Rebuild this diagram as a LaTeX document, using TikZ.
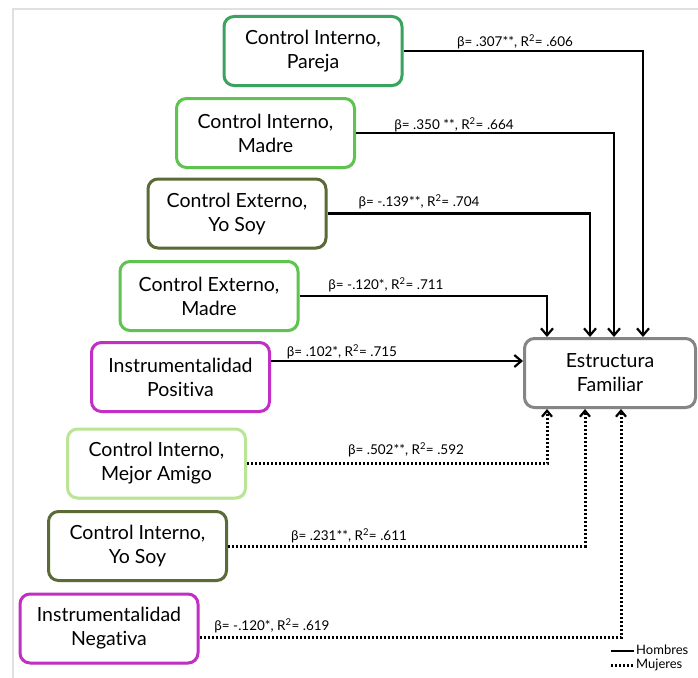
\documentclass[tikz,border=0pt]{standalone}
\usepackage{fontspec}
\setmainfont{Lato}[Ligatures=NoCommon]
\usetikzlibrary{arrows.meta,shadows}
\definecolor{cPareja}{HTML}{3AA35E}
\definecolor{cBright}{HTML}{5EC44F}
\definecolor{cOlive}{HTML}{5B6A36}
\definecolor{cMag}{HTML}{C12FC4}
\definecolor{cLight}{HTML}{BBE496}
\definecolor{cGray}{HTML}{858585}
\begin{document}
\begin{tikzpicture}[x=1pt,y=-1pt,
  box/.style={draw, line width=3pt, rounded corners=10pt, fill=white,
    align=center, inner sep=0pt, minimum width=178pt, minimum height=69pt,
    font=\fontsize{19.5}{24}\selectfont,
    drop shadow={opacity=0.25, shadow xshift=1pt, shadow yshift=-1.5pt}},
  lbl/.style={inner sep=0pt, font=\fontsize{13.5}{15}\selectfont},
  legtext/.style={inner sep=0pt, anchor=west, font=\fontsize{13}{15}\selectfont},
  solidarrow/.style={line width=2.4pt, -{Straight Barb[length=7pt,width=12pt,line width=2.2pt]}},
  dotarrow/.style={line width=3pt, dash pattern=on 2pt off 2pt, -{Straight Barb[length=6pt,width=10pt,line width=2.2pt]}}
]
\useasboundingbox (0,0) rectangle (698,677);
\draw[black!12, line width=1.5pt] (13,9) rectangle (720,700);

\node[box, draw=cPareja] (n1) at (313,51) {Control Interno,\\Pareja};
\node[box, draw=cBright] (n2) at (265.5,133) {Control Interno,\\Madre};
\node[box, draw=cOlive] (n3) at (237,213.5) {Control Externo,\\Yo Soy};
\node[box, draw=cBright] (n4) at (209,296) {Control Externo,\\Madre};
\node[box, draw=cMag] (n5) at (180.5,377) {Instrumentalidad\\Positiva};
\node[box, draw=cLight] (n6) at (156.5,463.5) {Control Interno,\\Mejor Amigo};
\node[box, draw=cOlive] (n7) at (137.5,546) {Control Interno,\\Yo Soy};
\node[box, draw=cMag] (n8) at (109,628.5) {Instrumentalidad\\Negativa};
\node[box, draw=cGray, minimum width=171pt] (n9) at (610,373) {Estructura\\Familiar};

\draw[solidarrow] (n1.east) -| ([xshift=33pt]n9.north);
\draw[solidarrow] (n2.east) -| ([xshift=4pt]n9.north);
\draw[solidarrow] (n3.east) -| ([xshift=-20pt]n9.north);
\draw[solidarrow] (n4.east) -| ([xshift=-63pt]n9.north);
\draw[solidarrow] ([yshift=16pt]n5.east) -- ([yshift=16pt]n5.east -| n9.west);
\draw[dotarrow] (n6.east) -| ([xshift=-63pt]n9.south);
\draw[dotarrow] (n7.east) -| ([xshift=-25pt]n9.south);
\draw[dotarrow] ([yshift=-8.5pt]n8.east) -| ([xshift=11pt]n9.south);

\node[lbl] (l1) at (515,42) {β= .307**, R\textsuperscript{2}= .606};
\node[lbl] (l2) at (454,125) {β= .350 **, R\textsuperscript{2}= .664};
\node[lbl] (l3) at (419,202) {β= -.139**, R\textsuperscript{2}= .704};
\node[lbl] (l4) at (386,285) {β= -.120*, R\textsuperscript{2}= .711};
\node[lbl] (l5) at (342,352) {β= .102*, R\textsuperscript{2}= .715};
\node[lbl] (l6) at (406,450) {β= .502**, R\textsuperscript{2}= .592};
\node[lbl] (l7) at (349,536) {β= .231**, R\textsuperscript{2}= .611};
\node[lbl] (l8) at (272,626) {β= -.120*, R\textsuperscript{2}= .619};

\coordinate (h1) at (611,651);
\coordinate (h2) at (634,651);
\coordinate (m1) at (611,665);
\coordinate (m2) at (634,665);
\draw[line width=2.4pt] (h1) -- (h2);
\draw[line width=3pt, dash pattern=on 2pt off 2pt] (m1) -- (m2);
\node[legtext] (hom) at (636,650) {Hombres};
\node[legtext] (muj) at (636,665) {Mujeres};
\end{tikzpicture}
\end{document}
